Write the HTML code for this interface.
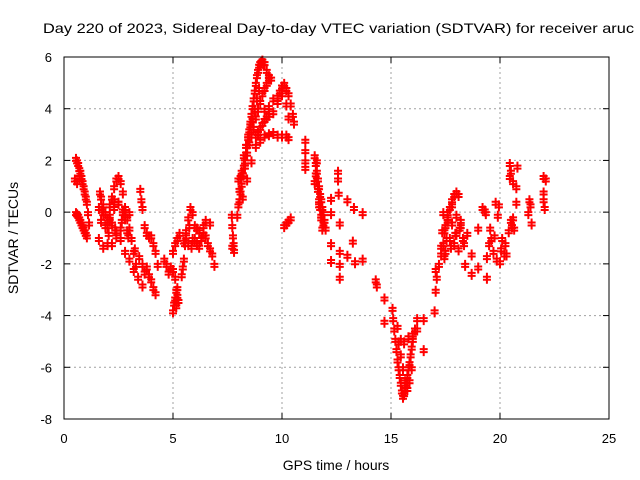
<!DOCTYPE html>
<html><head><meta charset="utf-8"><style>
body{margin:0;background:#fff}
svg{display:block;font-family:"Liberation Sans",sans-serif}
</style></head><body>
<svg id="chart" width="640" height="480">
<rect width="640" height="480" fill="#fff"/>
<text x="43" y="33" font-size="14" textLength="591" lengthAdjust="spacingAndGlyphs">Day 220 of 2023, Sidereal Day-to-day VTEC variation (SDTVAR) for receiver aruc</text>
<g id="grid"></g>
<g id="ticks"></g>
<g id="marks"></g>
<rect x="64" y="57" width="545" height="362" fill="none" stroke="#000" stroke-width="1"/>
<text x="18" y="238" font-size="14" text-anchor="middle" transform="rotate(-90 18 238)">SDTVAR / TECUs</text>
<text x="336" y="470" font-size="14" text-anchor="middle">GPS time / hours</text>
</svg>
<script>
const xTicks=[0,5,10,15,20,25];
const yTicks=[-8,-6,-4,-2,0,2,4,6];
const hours=[0.55,0.6,0.65,0.7,0.75,0.8,0.85,0.9,0.95,1.0,1.05,1.1,1.15,0.5,0.6,0.7,
0.55,0.6,0.65,0.7,0.75,0.8,0.85,0.9,0.95,1.0,1.05,
1.6,1.65,1.7,1.8,1.9,2.0,2.1,2.2,2.3,2.4,2.5,2.6,2.7,2.8,2.9,3.0,3.1,3.2,3.3,
1.6,1.8,2.0,2.2,2.4,2.6,2.8,3.0,3.2,3.4,3.6,
1.8,2.0,2.2,2.4,2.6,2.8,3.0,2.1,2.3,2.5,2.7,
3.5,3.55,3.6,3.7,3.8,3.9,4.0,4.1,4.2,4.3,
3.45,3.6,3.7,3.8,3.9,4.0,4.1,4.2,4.6,4.7,4.8,4.9,5.0,5.1,
5.0,5.05,5.1,5.15,5.2,5.25,5.0,5.1,5.2,5.3,
5.4,5.45,5.5,5.55,5.6,5.7,5.8,5.9,6.0,6.1,6.2,6.3,6.4,6.5,6.6,6.7,6.8,6.9,5.5,5.7,5.9,6.1,6.3,6.5,6.7,
7.7,7.72,7.75,7.78,7.8,7.72,
7.95,8.0,8.05,8.1,8.15,8.2,8.25,8.3,8.35,8.4,8.45,8.5,8.55,8.6,8.65,8.7,8.75,8.8,8.85,8.9,8.95,9.0,9.05,9.1,9.15,9.2,9.3,9.4,9.5,
8.0,8.1,8.2,8.3,8.4,8.5,8.6,8.7,8.8,8.9,9.0,9.1,9.2,9.3,9.4,
8.8,8.9,9.0,9.1,9.2,9.3,9.4,9.6,9.8,9.9,10.0,10.1,10.2,10.3,10.4,10.5,10.55,
9.0,9.2,9.4,9.6,9.8,10.0,10.2,10.3,
9.2,9.4,9.6,9.8,10.0,10.2,10.3,
10.1,10.2,10.3,10.4,
11.07,11.07,11.07,11.07,
11.5,11.55,11.6,11.65,11.7,11.75,11.8,11.85,11.9,11.95,12.0,11.6,11.5,11.7,11.55,11.8,
12.57,12.57,12.6,13.0,13.3,13.7,12.25,12.25,12.65,13.25,12.65,12.65,12.65,12.25,12.25,13.0,13.7,13.35,
14.3,14.35,14.7,14.7,
15.07,15.1,15.15,15.2,15.25,15.3,15.35,15.4,15.45,15.5,15.55,15.6,15.65,15.7,15.75,15.8,15.85,15.9,15.95,16.0,16.1,16.2,16.5,15.3,15.45,15.6,15.8,16.0,16.2,16.5,17.0,
17.05,17.05,17.1,17.2,17.3,17.4,17.45,17.45,17.5,17.6,17.7,17.8,17.9,18.0,18.1,17.3,17.5,17.7,17.9,18.1,18.3,18.5,18.4,17.6,17.8,18.0,18.2,
18.7,18.7,19.0,19.0,19.3,19.4,
19.2,19.35,19.55,19.7,19.85,20.0,19.4,19.6,
20.1,20.2,20.3,20.4,20.5,20.6,20.75,19.8,19.95,19.9,
20.45,20.45,20.5,20.6,20.75,20.8,
21.35,21.4,21.45,21.3,
22.0,22.0,22.05,22.1,22.0,
1.7,1.9,2.1,2.3,2.5,2.7,2.9,1.75,2.05,2.35,2.65,2.95,3.25,
8.05,8.15,8.25,8.35,8.45,8.55,8.65,8.75,8.85,8.95,8.2,8.4,8.6,8.8,
11.6,11.7,11.8,11.9,11.65,11.75,11.85,
17.35,17.55,17.75,17.95,18.15,17.4,17.6,17.8,18.0,18.2,18.35,
15.35,15.45,15.55,15.65,15.75,15.85,15.95,
5.15,5.2,5.6,5.75,5.85,6.0,6.2,6.4,
19.5,19.75,20.05,20.25,20.55,20.65];
const sdtvar=[2.1,2.0,1.9,1.7,1.6,1.4,1.2,1.0,0.8,0.6,0.4,0.0,-0.4,1.3,1.2,1.4,
0.0,-0.05,-0.1,-0.2,-0.3,-0.4,-0.5,-0.6,-0.7,-0.8,-0.9,
-1.0,0.8,0.6,0.3,0.0,-0.5,-0.3,0.6,1.0,1.3,1.4,1.2,0.8,0.2,-0.2,-0.6,-1.0,-1.5,-2.0,
0.2,0.0,-0.2,-0.4,-0.7,-1.0,-1.5,-1.8,-2.2,-2.5,-2.8,
-1.3,-1.2,-1.2,-0.9,-0.6,-0.2,0.0,0.3,0.5,0.4,0.1,
0.9,0.5,0.2,-0.5,-0.8,-0.9,-0.9,-1.2,-1.5,-2.0,
-1.7,-2.0,-2.3,-2.1,-2.4,-2.6,-2.9,-3.1,-1.8,-2.0,-2.3,-2.1,-2.2,-2.5,
-3.8,-3.5,-3.3,-3.0,-2.9,-3.4,-1.5,-1.2,-1.0,-0.8,
-2.4,-2.1,-1.8,-1.2,-0.7,-0.2,0.2,0.0,-0.5,-0.6,-0.7,-1.0,-0.8,-0.9,-1.2,-1.4,-1.6,-2.0,-1.1,-1.2,-1.0,-1.2,-1.0,-0.3,-0.4,
-0.1,-0.5,-0.9,-1.2,-1.46,-1.3,
-0.1,0.3,0.5,0.8,1.1,1.5,1.8,2.0,2.3,2.6,2.9,3.2,3.5,3.8,4.1,4.4,4.7,5.0,5.3,5.5,5.7,5.8,5.85,5.9,5.8,5.8,5.5,5.3,5.2,
1.3,1.4,1.5,1.8,2.3,2.7,3.0,3.3,3.7,4.0,4.3,4.6,4.8,5.0,5.2,
3.0,3.1,3.3,3.45,3.6,3.7,3.8,3.9,4.3,4.7,4.9,5.0,4.8,4.6,4.2,3.8,3.5,
2.8,3.0,3.05,3.1,3.0,3.0,3.0,2.9,
4.0,4.1,4.4,4.5,4.6,4.2,3.7,
-0.5,-0.4,-0.3,-0.2,
2.8,2.4,2.0,1.75,
2.2,1.9,1.6,1.3,1.0,0.7,0.5,0.2,0.0,-0.3,-0.6,2.0,1.2,0.3,1.5,-0.2,
1.6,1.3,0.75,0.5,0.2,0.0,0.55,0.0,-0.4,-1.1,-1.5,-2.0,-2.5,-1.2,-1.85,-1.65,-1.8,-1.9,
-2.6,-2.8,-3.3,-4.2,
-3.7,-4.1,-4.5,-4.9,-5.3,-5.7,-6.0,-6.3,-6.6,-6.9,-7.1,-7.0,-6.8,-6.6,-6.3,-6.0,-5.8,-5.5,-5.2,-4.9,-4.5,-4.1,-4.1,-4.4,-4.9,-5.0,-4.8,-4.7,-4.5,-5.3,-3.8,
-2.2,-3.0,-2.5,-2.0,-1.6,-1.2,-0.7,-1.7,-0.5,-0.2,0.2,0.5,0.7,0.8,0.7,-1.3,-1.5,-1.0,-1.2,-1.4,-1.0,-0.8,-2.0,0.0,-0.4,-0.8,-0.3,
-1.6,-2.35,-0.6,-2.1,0.1,-2.5,
0.2,0.0,-0.6,-1.5,-1.8,-1.9,-1.7,-1.0,
-1.0,-1.6,-1.6,-0.7,-0.3,-0.2,0.4,0.4,0.3,-0.1,
1.9,1.4,1.6,1.2,1.0,1.8,
0.5,0.3,-0.4,0.0,
1.4,0.5,0.2,1.3,0.8,
-0.3,-0.5,-0.1,0.2,0.4,0.0,-0.7,0.1,-0.8,-0.6,-0.3,-0.9,-1.4,
0.9,1.6,2.2,2.6,3.0,3.4,3.6,4.0,4.4,4.8,0.6,1.3,2.0,2.6,
1.3,0.5,-0.1,-0.4,0.9,0.2,-0.6,
-0.7,-1.0,-1.3,-0.8,-0.6,0.0,-0.3,0.3,-0.1,-0.5,-1.2,
-5.0,-5.5,-6.0,-6.5,-6.8,-6.5,-6.0,
-3.6,-3.2,-0.9,-0.5,-1.3,-1.0,-1.3,-0.5,
-1.2,-0.9,-1.4,-1.2,-0.5,-0.6];
const X0=64,X1=609,Y0=419,Y1=57;
function sx(h){return X0+(h-0)/25*(X1-X0);}
function sy(v){return Y0-(v+8)/14*(Y0-Y1);}
const NS='http://www.w3.org/2000/svg';
const grid=document.getElementById('grid'),ticks=document.getElementById('ticks'),marks=document.getElementById('marks');
function mk(tag,attrs,parent){const e=document.createElementNS(NS,tag);for(const k in attrs)e.setAttribute(k,attrs[k]);parent.appendChild(e);return e;}
xTicks.forEach(t=>{const x=sx(t);
 if(t>0&&t<25){const g=mk('line',{x1:x,x2:x,y1:Y1,y2:Y0,stroke:'#a0a0a0','stroke-dasharray':'2,3'},grid);
 
 }
 const l=mk('text',{x:x,y:443,'font-size':13,'text-anchor':'middle'},ticks);l.textContent=t;
 
 
 mk('line',{x1:x,x2:x,y1:Y0,y2:Y0-6,stroke:'#000'},ticks);
 mk('line',{x1:x,x2:x,y1:Y1,y2:Y1+6,stroke:'#000'},ticks);});
yTicks.forEach(t=>{const y=sy(t);
 if(t>-8&&t<6){const g=mk('line',{x1:X0,x2:X1,y1:y,y2:y,stroke:'#a0a0a0','stroke-dasharray':'2,3'},grid);
 
 }
 const l=mk('text',{x:52,y:y+5,'font-size':13,'text-anchor':'end'},ticks);l.textContent=t;
 
 
 mk('line',{x1:X0,x2:X0+6,y1:y,y2:y,stroke:'#000'},ticks);
 mk('line',{x1:X1,x2:X1-6,y1:y,y2:y,stroke:'#000'},ticks);});
for(let i=0;i<hours.length;i++){const x=sx(hours[i]),y=sy(sdtvar[i]);
 const p=mk('path',{d:`M${x-4},${y}H${x+4}M${x},${y-4}V${y+4}M${x-4},${y+3}H${x+4}M${x},${y-1}V${y+7}`,stroke:'#f00','stroke-width':2,fill:'none'},marks);
 
 }
</script>
</body></html>
